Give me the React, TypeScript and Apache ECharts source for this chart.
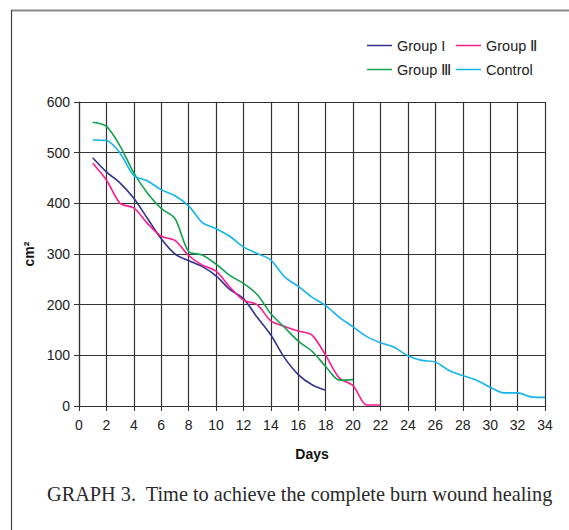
import React, { useEffect, useRef } from "react";
import * as echarts from "echarts";

const seriesNames = ["Group I", "Group Ⅱ", "Group Ⅲ", "Control"];
const seriesColors = ["#33338f", "#ff1a8c", "#12a14f", "#14b4ee"];

const daysGroupI = [1, 2, 3, 4, 5, 6, 7, 8, 9, 10, 11, 12, 13, 14, 15, 16, 17, 18];
const groupI = [490, 462, 440, 410, 370, 330, 300, 287, 275, 257, 230, 212, 175, 140, 95, 62, 42, 31];

const daysGroupII = [1, 2, 3, 4, 5, 6, 7, 8, 9, 10, 11, 12, 13, 14, 15, 16, 17, 18, 19, 20, 21, 22];
const groupII = [479, 446, 400, 391, 360, 335, 327, 297, 278, 266, 235, 209, 200, 168, 157, 148, 140, 100, 55, 40, 2, 2];

const daysGroupIII = [1, 2, 3, 4, 5, 6, 7, 8, 9, 10, 11, 12, 13, 14, 15, 16, 17, 18, 19, 20];
const groupIII = [560, 552, 513, 460, 420, 390, 370, 305, 298, 280, 258, 242, 220, 182, 155, 128, 108, 78, 51, 52];

const daysControl = [1, 2, 3, 4, 5, 6, 7, 8, 9, 10, 11, 12, 13, 14, 15, 16, 17, 18, 19, 20, 21, 22, 23, 24, 25, 26, 27, 28, 29, 30, 31, 32, 33, 34];
const control = [525, 524, 499, 455, 444, 427, 415, 395, 362, 350, 335, 314, 301, 288, 255, 236, 215, 198, 175, 156, 137, 125, 116, 99, 90, 87, 70, 60, 51, 37, 26, 26, 18, 17];

const allDays = [daysGroupI, daysGroupII, daysGroupIII, daysControl];
const allValues = [groupI, groupII, groupIII, control];

const xAxisTitle = "Days";
const yAxisTitle = "cm²";
const caption = "GRAPH 3.  Time to achieve the complete burn wound healing";

const legendPos = [
  { left: 367, top: 38 },
  { left: 456, top: 38 },
  { left: 367, top: 62 },
  { left: 456, top: 62 },
];

export default function App() {
  const ref = useRef<HTMLDivElement>(null);
  useEffect(() => {
    if (!ref.current) return;
    const chart = echarts.init(ref.current, null, { renderer: "svg" });
    const series = seriesNames.map((name, i) => ({
      name,
      type: "line",
      smooth: 0.3,
      symbol: "none",
      data: allDays[i].map((d, j) => [d, allValues[i][j]]),
      lineStyle: { color: seriesColors[i], width: 1.6 },
      itemStyle: { color: seriesColors[i] },
    }));
    chart.setOption({
      animation: false,
      backgroundColor: "#ffffff",
      textStyle: { fontFamily: "Liberation Sans, Arial, sans-serif" },
      legend: seriesNames.map((name, i) => ({
        data: [name],
        left: legendPos[i].left,
        top: legendPos[i].top,
        padding: 0,
        icon: "rect",
        itemWidth: 25,
        itemHeight: 1.5,
        itemGap: 5,
        textStyle: { fontSize: 14.5, color: "#222", fontFamily: "Liberation Sans, Arial, sans-serif" },
        selectedMode: false,
      })),
      grid: { left: 79, right: 24, top: 102, bottom: 124 },
      xAxis: {
        type: "value",
        min: 0,
        max: 34,
        interval: 2,
        name: xAxisTitle,
        nameLocation: "middle",
        nameGap: 41,
        nameTextStyle: { fontWeight: "bold", fontSize: 14, color: "#111" },
        axisLine: { lineStyle: { color: "#333", width: 1.2 } },
        axisTick: { show: true, length: 5, lineStyle: { color: "#333" } },
        axisLabel: { fontSize: 14, color: "#222", margin: 12 },
        splitLine: { show: true, lineStyle: { color: "#333", width: 1.2 } },
      },
      yAxis: {
        type: "value",
        min: 0,
        max: 600,
        interval: 100,
        name: yAxisTitle,
        nameLocation: "middle",
        nameGap: 37,
        nameRotate: 90,
        nameTextStyle: { fontWeight: "bold", fontSize: 14, color: "#111" },
        axisLine: { show: true, lineStyle: { color: "#333", width: 1.2 } },
        axisTick: { show: true, length: 5, lineStyle: { color: "#333" } },
        axisLabel: { fontSize: 14, color: "#222", margin: 9 },
        splitLine: { show: true, lineStyle: { color: "#333", width: 1.2 } },
      },
      graphic: [
        { type: "line", shape: { x1: 11, y1: 10.5, x2: 569, y2: 10.5 }, style: { stroke: "#8a8a8a", lineWidth: 2 } },
        { type: "line", shape: { x1: 11.5, y1: 10, x2: 11.5, y2: 530 }, style: { stroke: "#444", lineWidth: 1.2 } },
        {
          type: "text",
          left: 47,
          top: 484,
          style: {
            text: caption,
            font: "20.3px 'Liberation Serif', 'DejaVu Serif', serif",
            fill: "#2a2a2a",
          },
        },
      ],
      series,
    });
    return () => chart.dispose();
  }, []);
  return (
    <div
      ref={ref}
      style={{ position: "absolute", left: 0, top: 0, width: 569, height: 530 }}
    />
  );
}
